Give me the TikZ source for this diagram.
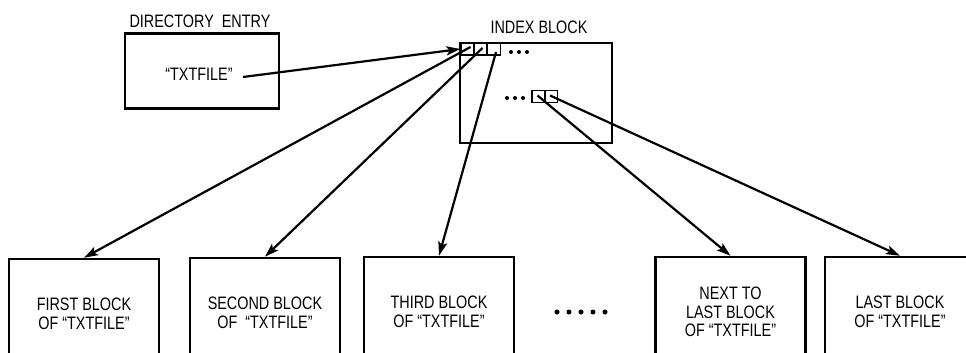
\documentclass[tikz,border=0pt]{standalone}
\usepackage{fontspec}
\setmainfont{Liberation Sans}[FakeStretch=0.8]
\usetikzlibrary{arrows.meta,calc}
\begin{document}
\begin{tikzpicture}[x=1pt,y=-1pt,
  lbl/.style={font=\fontsize{18}{18}\selectfont, inner sep=0pt, align=center},
  blockbox/.style={draw, line width=2.5pt, minimum width=150pt, minimum height=110pt,
     inner sep=0pt, font=\fontsize{18}{18.5}\selectfont, align=center},
  cell/.style={draw, line width=1.2pt, minimum width=13pt, minimum height=12pt, inner sep=0pt},
  ptr/.style={line width=2.2pt, -{Stealth[length=14pt,width=9pt,inset=3pt]}},
  bigdot/.style={circle, fill, inner sep=0pt, minimum size=5pt},
  smalldot/.style={circle, fill, inner sep=0pt, minimum size=4pt}]
\useasboundingbox (0,0) rectangle (966,353);
\clip (0,0) rectangle (966,353);
\fill[white] (0,0) rectangle (966,353);

% directory entry
\node[lbl] (dirlabel) at (200,21) {DIRECTORY\ \ ENTRY};
\node[draw, line width=2.5pt, minimum width=154pt, minimum height=75pt, inner sep=0pt] (dir) at (202,71) {};
\node[lbl] (txt) at (199,74) {``TXTFILE''};
\coordinate (dirstart) at (243,77);

% index block
\node[lbl] (idxlabel) at (539,27) {INDEX BLOCK};
\node[draw, line width=2.5pt, minimum width=152pt, minimum height=100pt, inner sep=0pt] (idx) at (536,93) {};
\node[cell] (c1) at (467.5,49) {};
\node[cell] (c2) at (480.5,49) {};
\node[cell] (c3) at (494,49) {};
\node[smalldot] (t1) at (511,52) {};
\node[smalldot] (t2) at (519,52) {};
\node[smalldot] (t3) at (527,52) {};
\node[cell] (d1) at (538.5,96.5) {};
\node[cell] (d2) at (551,96.5) {};
\node[smalldot] (u1) at (507,98) {};
\node[smalldot] (u2) at (515,98) {};
\node[smalldot] (u3) at (523,98) {};

% data blocks
\node[blockbox] (b1) at (84,314) {FIRST BLOCK\\OF ``TXTFILE''};
\node[blockbox] (b2) at (265,313) {SECOND BLOCK\\OF \ ``TXTFILE''};
\node[blockbox] (b3) at (439,312) {THIRD BLOCK\\OF ``TXTFILE''};
\node[blockbox] (b4) at (730.5,312) {NEXT TO\\LAST BLOCK\\OF ``TXTFILE''};
\node[blockbox] (b5) at (900,312) {LAST BLOCK\\OF ``TXTFILE''};

\foreach \i/\x in {1/557,2/569,3/581,4/593,5/605}
  \node[bigdot] (e\i) at (\x,312) {};

% pointers
\draw[ptr] (dirstart) -- (c1.west);
\draw[ptr] ($(c1.center)+(3,-2)$) -- (b1.north);
\draw[ptr] ($(c2.center)+(2,-1)$) -- (b2.north);
\draw[ptr] ($(c3.center)+(2,3)$) -- (b3.north);
\draw[ptr] ($(d1.center)+(-1,-1)$) -- (b4.north);
\draw[ptr] ($(d2.center)+(-1,-1)$) -- (b5.north);
\end{tikzpicture}
\end{document}
